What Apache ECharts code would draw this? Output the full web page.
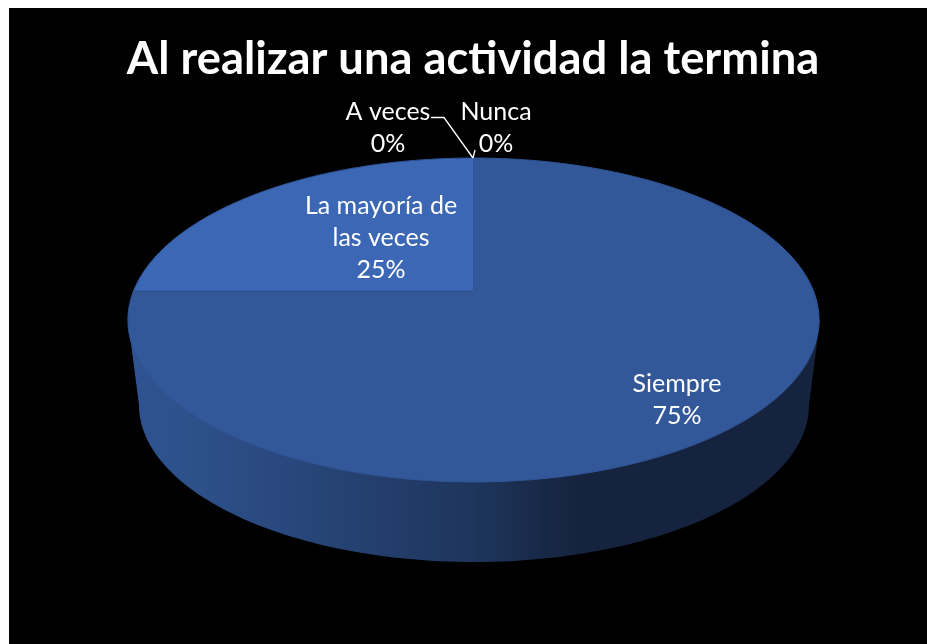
<!DOCTYPE html>
<html><head><meta charset="utf-8">
<style>html,body{margin:0;padding:0;background:#fff}#c{width:927px;height:644px}</style>
<script src="https://cdn.jsdelivr.net/npm/echarts@6/dist/echarts.min.js"></script>
</head><body><div id="c"></div>
<script>
const titleText = 'Al realizar una actividad la termina';
const categories = ['Siempre', 'La mayoría de las veces', 'A veces', 'Nunca'];
const values = [75, 25, 0, 0];

// Layout of the tilted pie (page pixels)
const FONT = 'Lato, Carlito, "Open Sans", sans-serif';
const apex = {x: 473.5, y: 291};
const persp = {k: 0.179, A: 156.8, B: 340};
const base = {x: 474, y: 405, rx: 335, ry: 157};
const rimY = 320, rimL = 128, rimR = 820;
const sliceColors = ['#33589a', '#3c67b4', '#3c67b4', '#33589a'];
const labelLayout = [
  {x: 677, y: 400, text: 'Siempre'},
  {x: 381, y: 238, text: 'La mayoría de\nlas veces'},
  {x: 388, y: 128, text: 'A veces'},
  {x: 496, y: 128, text: 'Nunca'}
];
const leaders = [null, null,
  [[431, 117.5], [444, 117.5], [473, 158]],
  [[473, 158], [475, 150]]];

const total = values.reduce((a, b) => a + b, 0);
function project(turn) { // turn: fraction of the circle, clockwise from 12 o'clock
  const a = turn * 2 * Math.PI, u = Math.sin(a), v = Math.cos(a);
  const w = 1 + persp.k * v;
  return [apex.x + persp.B * u / w, apex.y - persp.A * v / w];
}
function wallPoints() {
  const pts = [[rimL, rimY]];
  for (let i = 0; i <= 120; i++) {
    const t = Math.PI * i / 120;
    pts.push([base.x - base.rx * Math.cos(t), base.y + base.ry * Math.sin(t)]);
  }
  pts.push([rimR, rimY]);
  return pts;
}
function renderItem(params, api) {
  const i = params.dataIndex, val = api.value(0);
  let before = 0;
  for (let j = 0; j < i; j++) before += values[j];
  const children = [];
  if (i === 0) {
    children.push({
      type: 'polygon', shape: {points: wallPoints()},
      style: {fill: new echarts.graphic.LinearGradient(0, 0, 1, 0, [
        {offset: 0, color: '#2f5492'},
        {offset: 0.1, color: '#2d5089'},
        {offset: 0.25, color: '#28467a'},
        {offset: 0.5, color: '#1e355c'},
        {offset: 0.65, color: '#15233e'},
        {offset: 1, color: '#15233e'}
      ])}
    });
  }
  if (val > 0) {
    const start = before / total, end = (before + val) / total;
    const pts = [[apex.x, apex.y]];
    const n = Math.ceil(240 * (end - start));
    for (let s = 0; s <= n; s++) pts.push(project(start + (end - start) * s / n));
    children.push({
      type: 'polygon', shape: {points: pts},
      style: {fill: sliceColors[i], stroke: '#2f5394', lineWidth: 1, lineJoin: 'round'}
    });
  }
  if (leaders[i]) {
    children.push({
      type: 'polyline', shape: {points: leaders[i]}, z2: 5,
      style: {fill: null, stroke: '#fff', lineWidth: 1.3}
    });
  }
  const pct = Math.round(val / total * 100) + '%';
  const L = labelLayout[i];
  children.push({
    type: 'text', z2: 10,
    style: {x: L.x, y: L.y, text: L.text + '\n' + pct, fill: '#fff',
      font: '25px ' + FONT, lineHeight: 32, align: 'center', verticalAlign: 'middle'}
  });
  return {type: 'group', children};
}
const chart = echarts.init(document.getElementById('c'), null, {renderer: 'canvas'});
chart.setOption({
  animation: false,
  backgroundColor: '#ffffff',
  graphic: [{type: 'rect', z: -10, silent: true,
    shape: {x: 9, y: 8, width: 918, height: 636}, style: {fill: '#000'}}],
  title: {text: titleText, left: 468, top: 32, textAlign: 'center',
    textStyle: {color: '#fff', fontFamily: FONT, fontWeight: 'bold', fontSize: 45.3}},
  series: [{
    type: 'custom', coordinateSystem: 'none', renderItem, clip: false,
    data: categories.map((name, i) => ({name, value: [values[i]]}))
  }]
});
</script></body></html>
